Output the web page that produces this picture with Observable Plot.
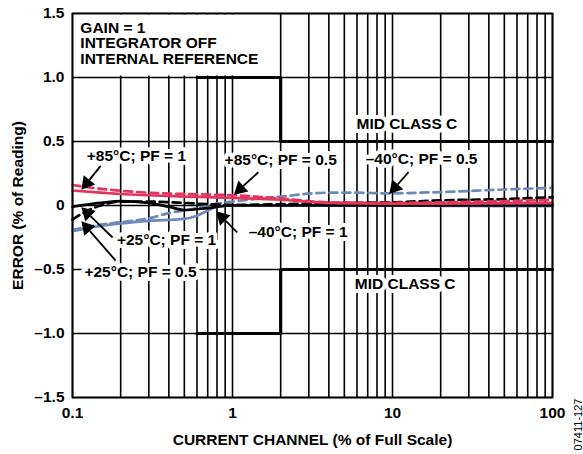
<!DOCTYPE html>
<html>
<head>
<meta charset="utf-8">
<script src="https://cdn.jsdelivr.net/npm/d3@7"></script>
<script src="https://cdn.jsdelivr.net/npm/@observablehq/plot@0.6"></script>
<style>
  html, body { margin: 0; padding: 0; background: #fff; }
  #chart { width: 583px; height: 454px; }
</style>
</head>
<body>
<div id="chart"></div>
<script>
// ---- Data ----
const xTicks = [0.1, 1, 10, 100];
const xTickLabels = ["0.1", "1", "10", "100"];
const yTicks = [-1.5, -1, -0.5, 0, 0.5, 1, 1.5];
const yTickLabels = ["\u20131.5", "\u20131.0", "\u20130.5", "0", "0.5", "1.0", "1.5"];

// +85°C; PF = 1 (red solid)
const x85pf1 = [0.1, 0.15, 0.2, 0.3, 0.5, 0.7, 1, 2, 4, 10, 20, 50, 100];
const y85pf1 = [0.117, 0.10, 0.09, 0.08, 0.07, 0.065, 0.06, 0.045, 0.02, 0.015, 0.015, 0.018, 0.02];
// +85°C; PF = 0.5 (red dashed)
const x85pf05 = [0.1, 0.15, 0.2, 0.3, 0.5, 0.7, 1, 2, 4, 10, 20, 50, 100];
const y85pf05 = [0.16, 0.13, 0.115, 0.10, 0.09, 0.085, 0.08, 0.055, 0.025, 0.02, 0.025, 0.035, 0.045];
// +25°C; PF = 1 (black solid)
const x25pf1 = [0.1, 0.15, 0.2, 0.3, 0.4, 0.5, 0.7, 1, 2, 5, 10, 20, 50, 100];
const y25pf1 = [-0.01, 0.02, 0.034, 0.02, -0.01, -0.035, -0.02, 0.0, 0.0, 0.0, 0.0, 0.0, 0.0, 0.0];
// +25°C; PF = 0.5 (black dashed)
const x25pf05 = [0.1, 0.12, 0.15, 0.2, 0.3, 0.5, 0.7, 1, 2, 5, 10, 20, 50, 100];
const y25pf05 = [-0.11, -0.05, 0.0, 0.03, 0.03, 0.02, 0.01, 0.005, 0.01, 0.02, 0.025, 0.04, 0.05, 0.065];
// –40°C; PF = 1 (blue solid)
const xm40pf1 = [0.1, 0.15, 0.2, 0.3, 0.5, 0.6, 0.7, 0.8, 1, 2, 5, 10, 20, 50, 100];
const ym40pf1 = [-0.2, -0.16, -0.14, -0.12, -0.105, -0.08, -0.04, -0.01, 0.0, 0.0, 0.0, 0.0, -0.003, -0.005, -0.005];
// –40°C; PF = 0.5 (blue dashed)
const xm40pf05 = [0.1, 0.15, 0.2, 0.3, 0.4, 0.6, 0.8, 1, 2, 4, 6, 9, 20, 50, 100];
const ym40pf05 = [-0.19, -0.15, -0.13, -0.1, -0.06, -0.02, 0.015, 0.03, 0.07, 0.1, 0.1, 0.095, 0.105, 0.125, 0.138];

// Mid Class C limits
const upperLimX = [0.6, 2, 2, 100];
const upperLimY = [1, 1, 0.5, 0.5];
const lowerLimX = [0.6, 2, 2, 100];
const lowerLimY = [-1, -1, -0.5, -0.5];

// Annotation labels
const labelText = ["+85\u00B0C; PF = 1", "+85\u00B0C; PF = 0.5", "\u201340\u00B0C; PF = 0.5", "\u201340\u00B0C; PF = 1", "+25\u00B0C; PF = 1", "+25\u00B0C; PF = 0.5", "MID CLASS C", "MID CLASS C"];
const labelX = [0.251, 2.0, 15.2, 2.57, 0.387, 0.266, 12.3, 12.0];
const labelY = [0.383, 0.352, 0.36, -0.21, -0.273, -0.523, 0.64, -0.61];

// Arrows (from label to curve)
const arrowX1 = [0.15, 1.45, 12.6, 1.07, 0.178, 0.186];
const arrowY1 = [0.31, 0.26, 0.26, -0.21, -0.25, -0.43];
const arrowX2 = [0.1155, 1.04, 9.7, 0.805, 0.1155, 0.1155];
const arrowY2 = [0.133, 0.094, 0.10, -0.055, -0.023, -0.133];

// Conditions note
const noteText = "GAIN = 1\nINTEGRATOR OFF\nINTERNAL REFERENCE";
const noteBox = [{x1: 0.1, x2: 1.95, y1: 1.0, y2: 1.5}];

// ---- Build ----
const RED = "#e4335c";
const BLUE = "#6d89bb";
const series = (xs, ys) => xs.map((x, i) => ({x, y: ys[i]}));
const labels = labelText.map((t, i) => ({t, x: labelX[i], y: labelY[i]}));
const arrows = arrowX1.map((x1, i) => ({x1, y1: arrowY1[i], x2: arrowX2[i], y2: arrowY2[i]}));

const lineOpts = (stroke, dash) => ({x: "x", y: "y", stroke, strokeWidth: 2.7, curve: "monotone-x", strokeDasharray: dash});

const base = {
  width: 583,
  height: 454,
  marginLeft: 72,
  marginRight: 31,
  marginTop: 13,
  marginBottom: 57,
  style: {fontFamily: "'Liberation Sans', Arial, sans-serif", fontSize: "15.5px", fontWeight: "bold", color: "#000", background: "#fff"},
  x: {type: "log", domain: [0.1, 100]},
  y: {domain: [-1.5, 1.5]}
};

function build(heads) {
  return Plot.plot({
    ...base,
    marks: [
      Plot.gridX({stroke: "#000", strokeOpacity: 1, strokeWidth: 1.6}),
      Plot.gridY(yTicks, {stroke: "#000", strokeOpacity: 1, strokeWidth: 1.6}),
      Plot.rect(noteBox, {x1: "x1", x2: "x2", y1: "y1", y2: "y2", fill: "#fff", insetTop: 1.5, insetLeft: 1.5, insetBottom: 1.5, insetRight: 1.5}),
      Plot.line(series(upperLimX, upperLimY), {x: "x", y: "y", stroke: "#000", strokeWidth: 3.2}),
      Plot.line(series(lowerLimX, lowerLimY), {x: "x", y: "y", stroke: "#000", strokeWidth: 3.2}),
      Plot.line(series(xm40pf05, ym40pf05), lineOpts(BLUE, "8,5")),
      Plot.line(series(xm40pf1, ym40pf1), lineOpts(BLUE)),
      Plot.line(series(x25pf05, y25pf05), lineOpts("#000", "8,5")),
      Plot.line(series(x25pf1, y25pf1), lineOpts("#000")),
      Plot.line(series(x85pf05, y85pf05), lineOpts(RED, "8,5")),
      Plot.line(series(x85pf1, y85pf1), lineOpts(RED)),
      Plot.text(labels, {x: "x", y: "y", text: "t", fill: "#000", stroke: "#fff", strokeWidth: 8, paintOrder: "stroke"}),
      Plot.link(heads, {x1: "x1", y1: "y1", x2: "bx", y2: "by", stroke: "#000", strokeWidth: 1.8}),
      Plot.dot(heads, {x: "cx", y: "cy", symbol: "triangle", rotate: "angle", r: 5.5, fill: "#000", stroke: "none"}),
      Plot.text([noteText], {x: 0.112, y: 1.266, text: d => d, textAnchor: "start", lineHeight: 1.0, fill: "#000"}),
      Plot.frame({stroke: "#000", strokeWidth: 1.8}),
      Plot.axisX(xTicks, {tickSize: 0, tickPadding: 9, tickFormat: d => xTickLabels[xTicks.indexOf(d)], label: null}),
      Plot.axisY(yTicks, {tickSize: 0, tickPadding: 8, tickFormat: d => yTickLabels[yTicks.indexOf(d)], label: null}),
      Plot.text(["CURRENT CHANNEL (% of Full Scale)"], {frameAnchor: "bottom", dy: 43, textAnchor: "middle", lineAnchor: "middle", text: d => d, fill: "#000"}),
      Plot.text(["ERROR (% of Reading)"], {frameAnchor: "left", dx: -54, rotate: -90, textAnchor: "middle", lineAnchor: "middle", text: d => d, fill: "#000"}),
      Plot.text(["07411-127"], {frameAnchor: "bottom-right", dx: 26, dy: 27, rotate: -90, textAnchor: "middle", lineAnchor: "middle", text: d => d, fontSize: 11, fontWeight: "normal", fill: "#000"})
    ]
  });
}

// first pass: get scales to orient the filled arrowheads in screen space
const probe = build([]);
const sx = probe.scale("x"), sy = probe.scale("y");
const HEAD = 11; // head length in px
const heads = arrows.map(a => {
  const px1 = sx.apply(a.x1), py1 = sy.apply(a.y1);
  const px2 = sx.apply(a.x2), py2 = sy.apply(a.y2);
  const dx = px2 - px1, dy = py2 - py1;
  const len = Math.hypot(dx, dy);
  const ux = dx / len, uy = dy / len;
  const bxp = px2 - ux * HEAD, byp = py2 - uy * HEAD;
  const cxp = px2 - ux * HEAD * 0.62, cyp = py2 - uy * HEAD * 0.62;
  return {
    x1: a.x1, y1: a.y1,
    bx: sx.invert(bxp), by: sy.invert(byp),
    cx: sx.invert(cxp), cy: sy.invert(cyp),
    angle: Math.atan2(dx, -dy) * 180 / Math.PI
  };
});

const chart = build(heads);
document.getElementById("chart").appendChild(chart);
</script>
</body>
</html>
